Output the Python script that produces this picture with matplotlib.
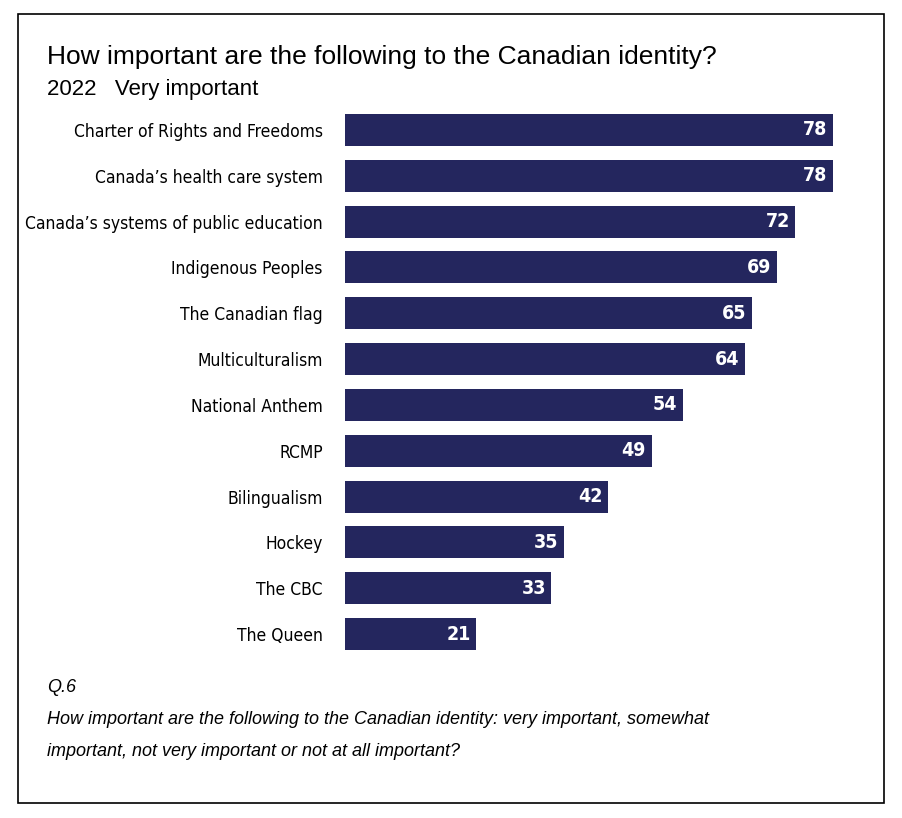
import matplotlib
matplotlib.use('Agg')
import matplotlib.pyplot as plt
from matplotlib.patches import Rectangle

categories = ["Charter of Rights and Freedoms", "Canada\u2019s health care system",
              "Canada\u2019s systems of public education", "Indigenous Peoples",
              "The Canadian flag", "Multiculturalism", "National Anthem", "RCMP",
              "Bilingualism", "Hockey", "The CBC", "The Queen"]
values = [78, 78, 72, 69, 65, 64, 54, 49, 42, 35, 33, 21]

bar_color = '#24265e'

fig = plt.figure(figsize=(9.02, 8.18), dpi=100)
fig.add_artist(Rectangle((18/902, 1-803/818), 866/902, 789/818, transform=fig.transFigure,
                         fill=False, edgecolor='black', linewidth=1.2))

ax = fig.add_axes([345/902, 1-657/818, 488/902, 550/818])
y = list(range(len(categories)))
ax.barh(y, values, height=0.7, color=bar_color)
ax.set_xlim(0, 78)
ax.set_ylim(len(categories)-0.5, -0.5)
ax.set_yticks(y)
ax.set_yticklabels(categories, family='DejaVu Sans', stretch='condensed', fontsize=12.5)
ax.tick_params(axis='y', length=0, pad=16)
ax.set_xticks([])
for s in ax.spines.values():
    s.set_visible(False)
for i, v in enumerate(values):
    ax.text(v - 0.9, i, str(v), ha='right', va='center', color='white',
            fontsize=14, fontweight='bold', family='DejaVu Sans', stretch='condensed')

fig.text(47/902, 1-57/818, "How important are the following to the Canadian identity?",
         fontsize=19, family='Liberation Sans', va='center')
fig.text(47/902, 1-89/818, "2022   Very important", fontsize=16,
         family='Liberation Sans', va='center')
foot = dict(fontsize=13, family='Liberation Sans', style='italic', va='center')
fig.text(47/902, 1-688/818, "Q.6", **foot)
fig.text(47/902, 1-720/818, "How important are the following to the Canadian identity: very important, somewhat", **foot)
fig.text(47/902, 1-751/818, "important, not very important or not at all important?", **foot)

fig.savefig('out.png', dpi=100)
